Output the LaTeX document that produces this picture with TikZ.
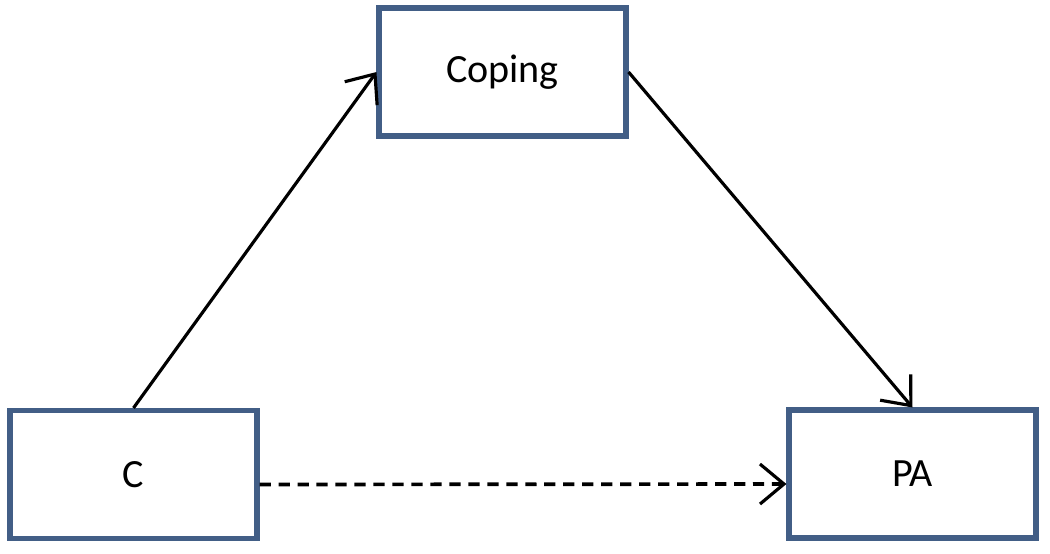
\documentclass[tikz,border=0pt]{standalone}
\usepackage{fontspec}
\setmainfont{Carlito}
\usetikzlibrary{positioning,arrows.meta}
\definecolor{boxblue}{RGB}{66,94,134}
\begin{document}
\begin{tikzpicture}[
  font=\fontsize{11.4}{13}\selectfont,
  var/.style={rectangle, draw=boxblue, line width=1.45pt, fill=white,
              minimum width=2.47cm, minimum height=1.28cm, inner sep=2pt},
  path/.style={-{Straight Barb[length=2.4mm,width=4mm,line width=0.9pt]},
               draw=black, line width=0.9pt},
  direct/.style={path, line width=1.05pt, dash pattern=on 3.2pt off 2.2pt}
]
\useasboundingbox (0,0) rectangle (10.5,5.53);
\node[var] (cop) at (5.025,4.81) {Coping};
\node[var] (c)   at (1.335,0.785) {C};
\node[var] (pa)  at (9.125,0.79) {PA};

\draw[path] (c.north) -- (cop.west);
\draw[path] (cop.east) -- (pa.north);
\draw[direct] ([yshift=-0.1cm]c.east) -- ([yshift=-0.1cm]pa.west);
\end{tikzpicture}
\end{document}
